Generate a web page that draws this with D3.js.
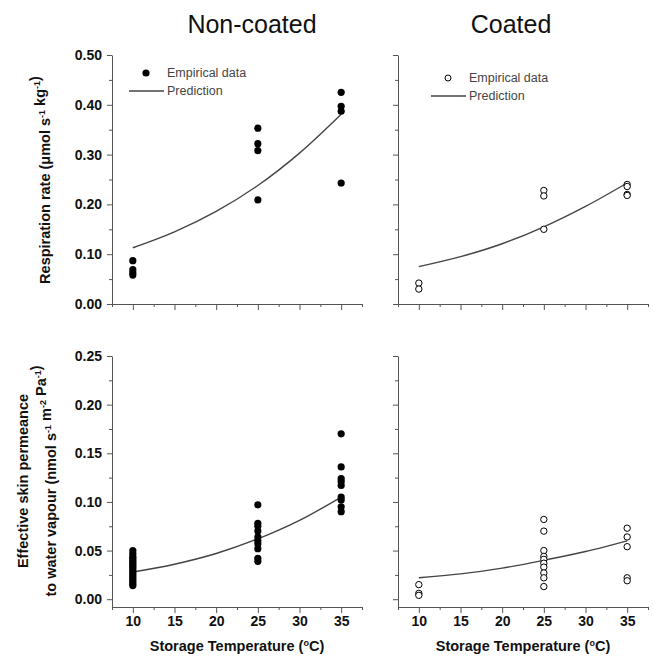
<!DOCTYPE html>
<html>
<head>
<meta charset="utf-8">
<script src="https://cdn.jsdelivr.net/npm/d3@7"></script>
<style>
  body { margin: 0; background: #fff; }
  text { font-family: Arial, "Liberation Sans", sans-serif; }
</style>
</head>
<body>
<div id="chart"></div>
<script>
// data: [temperature °C, value]
const tempTicks = [10, 15, 20, 25, 30, 35];

const respNonCoated = [
  [10, 0.087], [10, 0.069], [10, 0.063], [10, 0.058],
  [25, 0.353], [25, 0.322], [25, 0.308], [25, 0.209],
  [35, 0.425], [35, 0.397], [35, 0.387], [35, 0.243]
];
const respNonCoatedPred = [[10, 0.113], [15, 0.145], [20, 0.186], [25, 0.238], [30, 0.303], [35, 0.381]];

const respCoated = [
  [10, 0.042], [10, 0.030],
  [25, 0.228], [25, 0.217], [25, 0.150],
  [35, 0.240], [35, 0.236], [35, 0.220], [35, 0.218]
];
const respCoatedPred = [[10, 0.075], [15, 0.095], [20, 0.121], [25, 0.155], [30, 0.196], [35, 0.243]];

const permNonCoated = [
  [10, 0.050], [10, 0.047], [10, 0.044], [10, 0.042], [10, 0.040], [10, 0.038],
  [10, 0.036], [10, 0.034], [10, 0.032], [10, 0.030], [10, 0.028], [10, 0.026],
  [10, 0.024], [10, 0.022], [10, 0.020], [10, 0.018], [10, 0.016], [10, 0.014],
  [25, 0.097], [25, 0.078], [25, 0.075], [25, 0.070], [25, 0.064], [25, 0.060],
  [25, 0.057], [25, 0.052], [25, 0.042], [25, 0.039],
  [35, 0.170], [35, 0.136], [35, 0.124], [35, 0.121], [35, 0.117], [35, 0.105],
  [35, 0.102], [35, 0.095], [35, 0.090]
];
const permNonCoatedPred = [[10, 0.028], [15, 0.036], [20, 0.047], [25, 0.062], [30, 0.081], [35, 0.105]];

const permCoated = [
  [10, 0.015], [10, 0.006], [10, 0.004],
  [25, 0.082], [25, 0.070], [25, 0.050], [25, 0.044], [25, 0.041], [25, 0.037],
  [25, 0.033], [25, 0.027], [25, 0.022], [25, 0.013],
  [35, 0.073], [35, 0.064], [35, 0.054], [35, 0.022], [35, 0.019]
];
const permCoatedPred = [[10, 0.022], [15, 0.026], [20, 0.032], [25, 0.040], [30, 0.049], [35, 0.060]];

const respTicks = [0, 0.1, 0.2, 0.3, 0.4, 0.5];
const permTicks = [0, 0.05, 0.1, 0.15, 0.2, 0.25];

// layout
const svg = d3.select("#chart").append("svg")
  .attr("width", 653)
  .attr("height", 657);

const xDomain = [7.5, 37.5];
const xLeft = d3.scaleLinear().domain(xDomain).range([112, 362]);
const xRight = d3.scaleLinear().domain(xDomain).range([398, 648]);
const yTop = d3.scaleLinear().domain([0, 0.5]).range([304, 55]);
const yBot = d3.scaleLinear().domain([-0.008, 0.25]).range([607, 356]);

const axisColor = "#555";
const lineColor = "#444";

function drawAxes(x, y, yTicks, yStep, showY, showX, fmtY) {
  const x0 = x.range()[0];
  const yb = y.range()[0];
  const minorX = d3.range(xDomain[0], xDomain[1] + 0.01, 2.5).filter(v => !tempTicks.includes(v));
  const minorY = yTicks.slice(0, -1).map(v => v + yStep / 2);

  // x axis
  const gx = svg.append("g").attr("transform", `translate(0,${yb})`);
  gx.call(d3.axisBottom(x).tickValues(tempTicks).tickSize(6).tickSizeOuter(0).tickPadding(3)
    .tickFormat(showX ? d3.format("d") : ""));
  const gxm = svg.append("g").attr("transform", `translate(0,${yb})`);
  gxm.call(d3.axisBottom(x).tickValues(minorX).tickSize(3).tickSizeOuter(0).tickFormat(""));
  gxm.select(".domain").remove();

  // y axis
  const gy = svg.append("g").attr("transform", `translate(${x0},0)`);
  gy.call(d3.axisLeft(y).tickValues(yTicks).tickSize(5).tickSizeOuter(0).tickPadding(5)
    .tickFormat(showY ? fmtY : ""));
  const gym = svg.append("g").attr("transform", `translate(${x0},0)`);
  gym.call(d3.axisLeft(y).tickValues(minorY).tickSize(3).tickSizeOuter(0).tickFormat(""));
  gym.select(".domain").remove();

  [gx, gxm, gy, gym].forEach(g => {
    g.selectAll("line").attr("stroke", axisColor);
    g.selectAll(".domain").attr("stroke", axisColor);
    g.selectAll("text")
      .attr("fill", "#111")
      .style("font-size", "14px")
      .style("font-weight", "bold");
  });
}

function drawPanel(x, y, points, pred, filled) {
  const line = d3.line()
    .x(d => x(d[0]))
    .y(d => y(d[1]))
    .curve(d3.curveCatmullRom);

  svg.append("path")
    .datum(pred)
    .attr("fill", "none")
    .attr("stroke", lineColor)
    .attr("stroke-width", 1.4)
    .attr("d", line);

  svg.append("g").selectAll("circle")
    .data(points)
    .join("circle")
    .attr("cx", d => x(d[0]))
    .attr("cy", d => y(d[1]))
    .attr("r", filled ? 3.6 : 3.2)
    .attr("fill", filled ? "#000" : "#fff")
    .attr("stroke", "#000")
    .attr("stroke-width", filled ? 0 : 1);
}

function drawLegend(mx, my, filled) {
  const g = svg.append("g");
  g.append("circle")
    .attr("cx", mx)
    .attr("cy", my)
    .attr("r", filled ? 3.6 : 3)
    .attr("fill", filled ? "#000" : "#fff")
    .attr("stroke", "#000")
    .attr("stroke-width", filled ? 0 : 1);
  g.append("text")
    .attr("x", mx + 21)
    .attr("y", my + 4)
    .attr("fill", "#444")
    .style("font-size", "12.5px")
    .text("Empirical data");
  g.append("line")
    .attr("x1", mx - 17)
    .attr("x2", mx + 18)
    .attr("y1", my + 18)
    .attr("y2", my + 18)
    .attr("stroke", lineColor)
    .attr("stroke-width", 1.4);
  g.append("text")
    .attr("x", mx + 21)
    .attr("y", my + 22)
    .attr("fill", "#444")
    .style("font-size", "12.5px")
    .text("Prediction");
}

const fmt2 = d3.format(".2f");

drawAxes(xLeft, yTop, respTicks, 0.1, true, false, fmt2);
drawAxes(xRight, yTop, respTicks, 0.1, false, false, fmt2);
drawAxes(xLeft, yBot, permTicks, 0.05, true, true, fmt2);
drawAxes(xRight, yBot, permTicks, 0.05, false, true, fmt2);

drawPanel(xLeft, yTop, respNonCoated, respNonCoatedPred, true);
drawPanel(xRight, yTop, respCoated, respCoatedPred, false);
drawPanel(xLeft, yBot, permNonCoated, permNonCoatedPred, true);
drawPanel(xRight, yBot, permCoated, permCoatedPred, false);

drawLegend(146, 73, true);
drawLegend(448, 78, false);

// titles
svg.append("text")
  .attr("x", 252).attr("y", 33)
  .attr("text-anchor", "middle")
  .style("font-size", "25px")
  .attr("fill", "#111")
  .text("Non-coated");

svg.append("text")
  .attr("x", 511).attr("y", 33)
  .attr("text-anchor", "middle")
  .style("font-size", "25px")
  .attr("fill", "#111")
  .text("Coated");

// x axis labels
[xLeft, xRight].forEach(x => {
  const t = svg.append("text")
    .attr("x", (x.range()[0] + x.range()[1]) / 2)
    .attr("y", 651)
    .attr("text-anchor", "middle")
    .style("font-size", "14.5px")
    .style("font-weight", "bold")
    .attr("fill", "#111");
  t.append("tspan").text("Storage Temperature (");
  t.append("tspan").attr("dy", -5).style("font-size", "9px").text("o");
  t.append("tspan").attr("dy", 5).text("C)");
});

// y axis labels
function supLabel(cx, cy, parts) {
  const t = svg.append("text")
    .attr("transform", `translate(${cx},${cy}) rotate(-90)`)
    .attr("text-anchor", "middle")
    .style("font-size", "14.5px")
    .style("font-weight", "bold")
    .attr("fill", "#111");
  parts.forEach(p => {
    if (p.sup) {
      t.append("tspan").attr("dy", -5).style("font-size", "9px").text(p.sup);
      t.append("tspan").attr("dy", 5).text("");
    } else {
      t.append("tspan").text(p.text);
    }
  });
}

supLabel(50, 180, [
  { text: "Respiration rate (μmol s" }, { sup: "-1" },
  { text: " kg" }, { sup: "-1" }, { text: ")" }
]);
supLabel(28, 481, [{ text: "Effective skin permeance" }]);
supLabel(56, 481, [
  { text: "to water vapour (nmol s" }, { sup: "-1" },
  { text: " m" }, { sup: "-2" }, { text: " Pa" }, { sup: "-1" }, { text: ")" }
]);
</script>
</body>
</html>
